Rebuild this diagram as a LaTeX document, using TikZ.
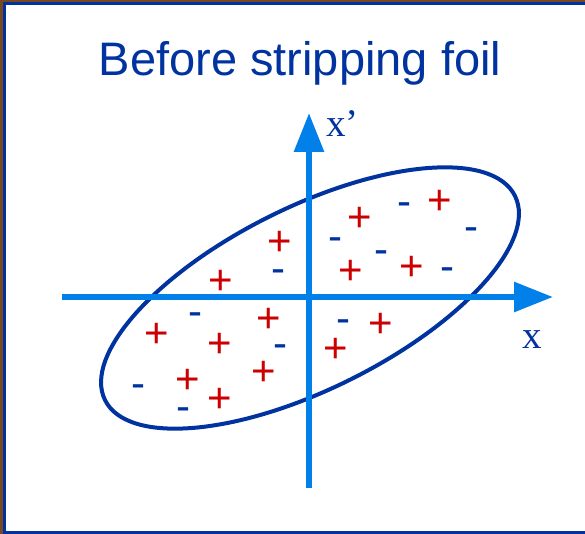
\documentclass[tikz,border=0pt]{standalone}
\usepackage{fontspec}
\setmainfont{Liberation Sans}
\newfontfamily\serifx{Liberation Serif}
\usetikzlibrary{arrows.meta}
\definecolor{axisblue}{RGB}{0,128,232}
\definecolor{darkblue}{RGB}{0,51,160}
\definecolor{chargered}{RGB}{204,0,0}
\definecolor{bgbrown}{RGB}{120,72,30}
\begin{document}
\begin{tikzpicture}[x=1pt,y=-1pt,
  poscharge/.style={text=chargered, font=\fontsize{42}{42}\selectfont, inner sep=0pt, anchor=base, yshift=-14.7pt},
  negcharge/.style={text=darkblue, font=\fontsize{42}{42}\selectfont, inner sep=0pt, anchor=base, yshift=-11.3pt},
  axisline/.style={draw=axisblue, line width=6pt, -{Triangle[length=39pt, width=29pt]}, color=axisblue},
  axislabel/.style={text=darkblue, font=\serifx\fontsize{39}{39}\selectfont, inner sep=0pt},
  beam/.style={draw=darkblue, line width=4pt}]
\useasboundingbox (0,0) rectangle (585,534);
\fill[bgbrown] (0,0) rectangle (585,534);
\filldraw[fill=white, draw=darkblue, line width=3pt] (4.5,3.5) rectangle (600,532);
% title
\node[text=darkblue, font=\fontsize{47}{47}\selectfont, anchor=base, inner sep=0pt] (title) at (300,76) {Before stripping foil};
% ellipse
\draw[beam, rotate around={26.5:(310,298)}] (310,298) ellipse [x radius=229pt, y radius=91pt];
% axes
\coordinate (xs) at (62,297);
\coordinate (xe) at (553,297);
\coordinate (ys) at (309,488);
\coordinate (ye) at (309,113);
\draw[axisline] (xs) -- (xe);
\draw[axisline] (ys) -- (ye);
\node[axislabel, anchor=base] (xlab) at (532,348) {x};
\node[axislabel, anchor=base west] (xplab) at (326,137) {x’};
% charges
\foreach \px/\py [count=\i] in {360/217, 440/200, 351/270, 412/266, 280/241, 221/280,
  269/318, 157/333, 220/343, 264/371, 188/379, 220/398, 381/323, 336/348}
  \node[poscharge] (p\i) at (\px,\py) {+};
\foreach \nx/\ny [count=\i] in {404/204, 471/229, 335/239, 381/252, 447/269, 278/271,
  195/314, 280/346, 138/386, 183/409, 343/321}
  \node[negcharge] (n\i) at (\nx,\ny) {-};
\end{tikzpicture}
\end{document}
